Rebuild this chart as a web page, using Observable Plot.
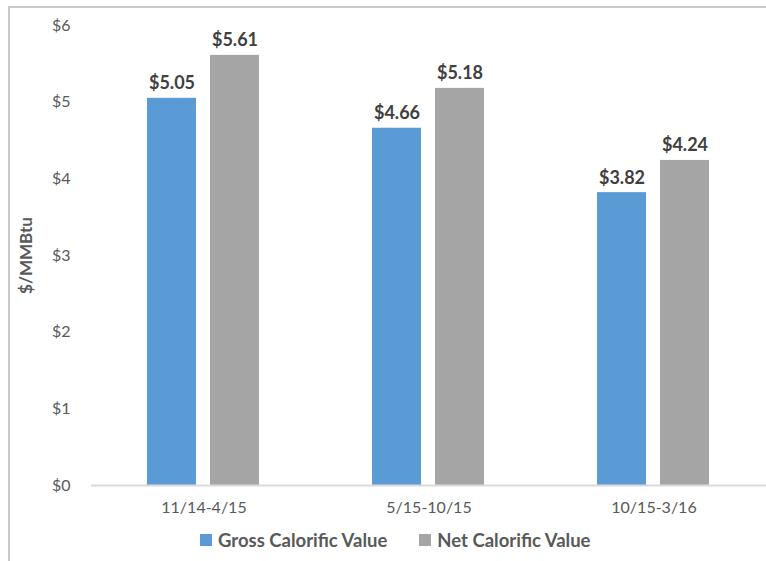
<!DOCTYPE html>
<html>
<head>
<meta charset="utf-8">
<script src="https://cdn.jsdelivr.net/npm/d3@7"></script>
<script src="https://cdn.jsdelivr.net/npm/@observablehq/plot@0.6"></script>
<style>
  html, body { margin: 0; padding: 0; background: #fff; }
  #wrap { position: relative; width: 766px; height: 561px; overflow: hidden; font-family: Lato, sans-serif; }
  #frame { position: absolute; left: 8px; top: 6px; width: 820px; height: 620px; border: 2px solid #c9c9c9; box-sizing: border-box; }
  #chart { position: absolute; left: 0; top: 0; }
  #legend { position: absolute; left: 200px; top: 529px; display: flex; align-items: center; font-weight: bold; font-size: 18.5px; color: #595959; }
  .item { display: flex; align-items: center; margin-right: 32px; }
  .sw { width: 12px; height: 12px; margin-right: 6px; }
  g[aria-label="y-axis label"] text { font-weight: bold; font-size: 17px; fill: #595959; }
</style>
</head>
<body>
<div id="wrap">
  <div id="frame"></div>
  <div id="chart"></div>
  <div id="legend"></div>
</div>
<script>
const categories = ["11/14-4/15", "5/15-10/15", "10/15-3/16"];
const series = ["Gross Calorific Value", "Net Calorific Value"];
const grossValues = [5.05, 4.66, 3.82];
const netValues = [5.61, 5.18, 4.24];
const yTicks = [0, 1, 2, 3, 4, 5, 6];
const colors = ["#5B9BD5", "#A5A5A5"];

const data = categories.flatMap((c, i) => [
  {period: c, series: series[0], value: grossValues[i]},
  {period: c, series: series[1], value: netValues[i]}
]);

const chart = Plot.plot({
  width: 766,
  height: 530,
  marginLeft: 91,
  marginRight: 0,
  marginTop: 25,
  marginBottom: 45,
  style: {fontFamily: "Lato, sans-serif", fontSize: "16px", color: "#595959", background: "transparent"},
  fx: {domain: categories, padding: 0, axis: "bottom", label: null, tickSize: 0, tickPadding: 16},
  x: {domain: series, axis: null, paddingInner: 0.21875, paddingOuter: 0.875},
  y: {domain: [0, 6]},
  color: {domain: series, range: colors},
  marks: [
    Plot.axisY(yTicks, {tickSize: 0, tickPadding: 21, tickFormat: d => "$" + d, label: "$/MMBtu", labelArrow: "none", labelAnchor: "center", labelOffset: 72, fontSize: 16}),
    Plot.barY(data, {fx: "period", x: "series", y: "value", fill: "series"}),
    Plot.ruleY([0], {stroke: "#d9d9d9", strokeWidth: 2}),
    Plot.text(data, {fx: "period", x: "series", y: "value", text: d => "$" + d.value.toFixed(2), lineAnchor: "bottom", dy: -9, fontWeight: "bold", fontSize: 18, fill: "#404040"})
  ]
});
document.getElementById("chart").appendChild(chart);

const legend = document.getElementById("legend");
series.forEach((s, i) => {
  const item = document.createElement("div");
  item.className = "item";
  const sw = document.createElement("div");
  sw.className = "sw";
  sw.style.background = colors[i];
  const label = document.createElement("span");
  label.textContent = s;
  item.appendChild(sw);
  item.appendChild(label);
  legend.appendChild(item);
});
</script>
</body>
</html>
